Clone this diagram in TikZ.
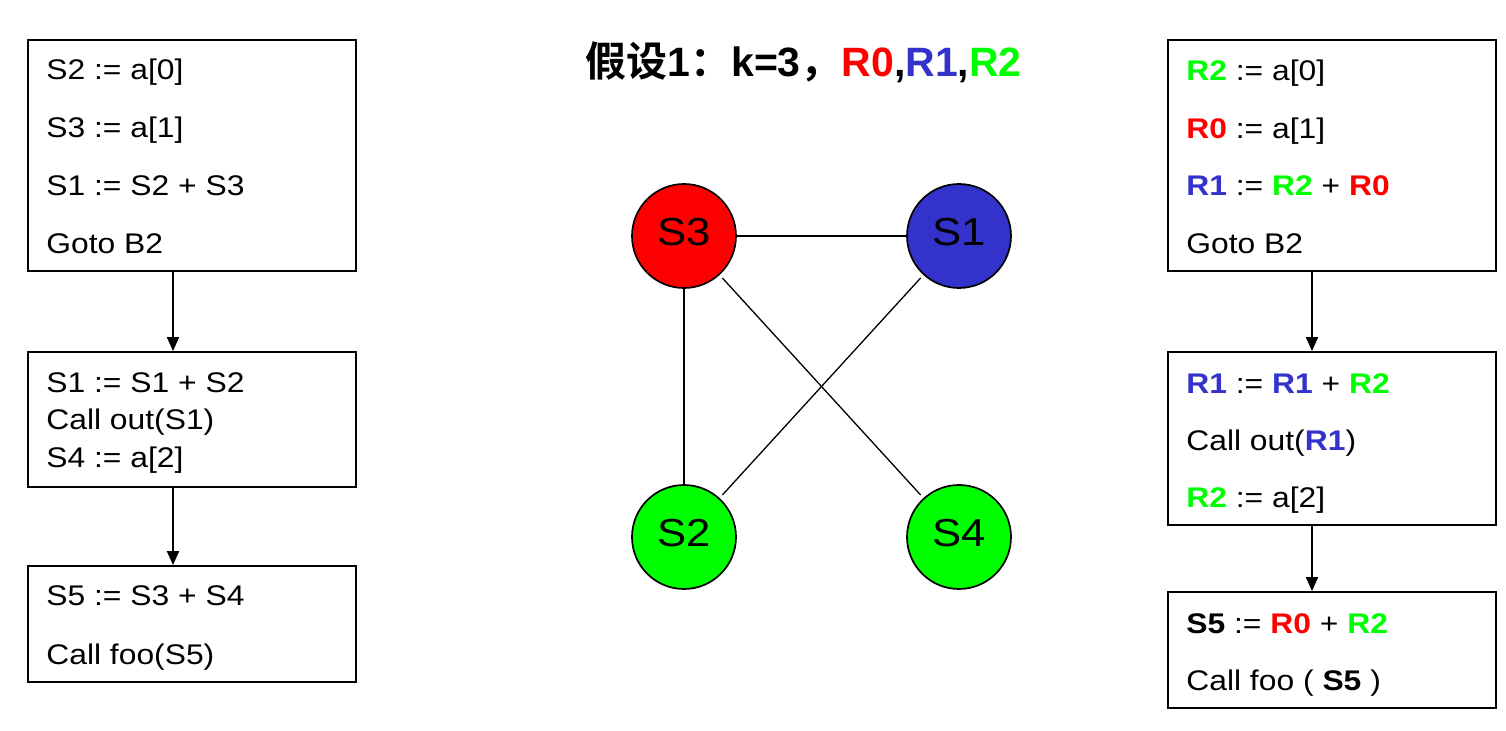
\documentclass[tikz,border=0pt]{standalone}
\usepackage{fontspec}
\setmainfont{Liberation Sans}[FakeStretch=1.12]
\newfontfamily\titlefont{Liberation Sans}
\newfontfamily\cjk{Noto Sans CJK SC}[BoldFont={* Bold}]
\usetikzlibrary{arrows.meta}
\definecolor{rr}{HTML}{FF0000}
\definecolor{gg}{HTML}{00FF00}
\definecolor{bb}{HTML}{3333CC}
\newcommand{\regR}[1]{\textbf{\textcolor{rr}{#1}}}
\newcommand{\regG}[1]{\textbf{\textcolor{gg}{#1}}}
\newcommand{\regB}[1]{\textbf{\textcolor{bb}{#1}}}
\tikzset{
  box/.style={draw, line width=0.9pt, rectangle, inner sep=0pt, minimum width=164pt},
  code/.style={anchor=west, inner sep=0pt, text height=10.2pt, text depth=0pt, font=\fontsize{14.2}{16}\selectfont},
  vert/.style={circle, draw, line width=0.85pt, minimum size=52pt, inner sep=0pt, text height=14pt, text depth=4pt, font=\fontsize{19.5}{22}\selectfont},
  arr/.style={line width=0.9pt, -{Triangle[length=7pt,width=6pt]}},
  gedge/.style={line width=0.65pt}
}
\begin{document}
\begin{tikzpicture}[x=0.5pt,y=-0.5pt]
\useasboundingbox[fill=white] (0,0) rectangle (1506,731);
% title
\node[anchor=base west, inner sep=0pt, font=\fontsize{20.5}{24}\selectfont\titlefont\bfseries] (title) at (585,77)
  {{\cjk\bfseries 假设}1{\cjk\bfseries ：}k=3{\cjk\bfseries ，}\textcolor{rr}{R0},\textcolor{bb}{R1},\textcolor{gg}{R2}};
% left boxes
\node[box, minimum height=115.5pt] (L1) at (192,155.5) {};
\node[box, minimum height=67.5pt] (L2) at (192,419.5) {};
\node[box, minimum height=58pt] (L3) at (192,624) {};
\node[code] (l11) at (46,69) {S2 := a[0]};
\node[code] (l12) at (46,127) {S3 := a[1]};
\node[code] (l13) at (46,185) {S1 := S2 + S3};
\node[code] (l14) at (46,243) {Goto B2};
\node[code] (l21) at (46,382) {S1 := S1 + S2};
\node[code] (l22) at (46,419) {Call out(S1)};
\node[code] (l23) at (46,457) {S4 := a[2]};
\node[code] (l31) at (46,595) {S5 := S3 + S4};
\node[code] (l32) at (46,654) {Call foo(S5)};
\draw[arr] ([xshift=-9.5pt]L1.south) -- ([xshift=-9.5pt]L2.north);
\draw[arr] ([xshift=-9.5pt]L2.south) -- ([xshift=-9.5pt]L3.north);
% right boxes
\node[box, minimum height=115.5pt] (R1) at (1332,155.5) {};
\node[box, minimum height=86.5pt] (R2) at (1332,438.5) {};
\node[box, minimum height=58pt] (R3) at (1332,650) {};
\node[code] (r11) at (1186,70) {\regG{R2} := a[0]};
\node[code] (r12) at (1186,128) {\regR{R0} := a[1]};
\node[code] (r13) at (1186,185) {\regB{R1} := \regG{R2} + \regR{R0}};
\node[code] (r14) at (1186,243) {Goto B2};
\node[code] (r21) at (1186,383) {\regB{R1} := \regB{R1} + \regG{R2}};
\node[code] (r22) at (1186,440) {Call out(\regB{R1})};
\node[code] (r23) at (1186,497) {\regG{R2} := a[2]};
\node[code] (r31) at (1186,623) {\textbf{S5} := \regR{R0} + \regG{R2}};
\node[code] (r32) at (1186,680) {Call foo ( \textbf{S5} )};
\draw[arr] ([xshift=-10pt]R1.south) -- ([xshift=-10pt]R2.north);
\draw[arr] ([xshift=-10pt]R2.south) -- ([xshift=-10pt]R3.north);
% graph
\node[vert, fill=rr] (S3) at (684,236) {S3};
\node[vert, fill=bb] (S1) at (959,236) {S1};
\node[vert, fill=gg] (S2) at (684,537) {S2};
\node[vert, fill=gg] (S4) at (959,537) {S4};
\draw[gedge] (S3) -- (S1);
\draw[gedge] (S3) -- (S2);
\draw[gedge, shorten <=2pt, shorten >=2pt] (S3) -- (S4);
\draw[gedge, shorten <=2pt, shorten >=2pt] (S1) -- (S2);
\end{tikzpicture}
\end{document}
